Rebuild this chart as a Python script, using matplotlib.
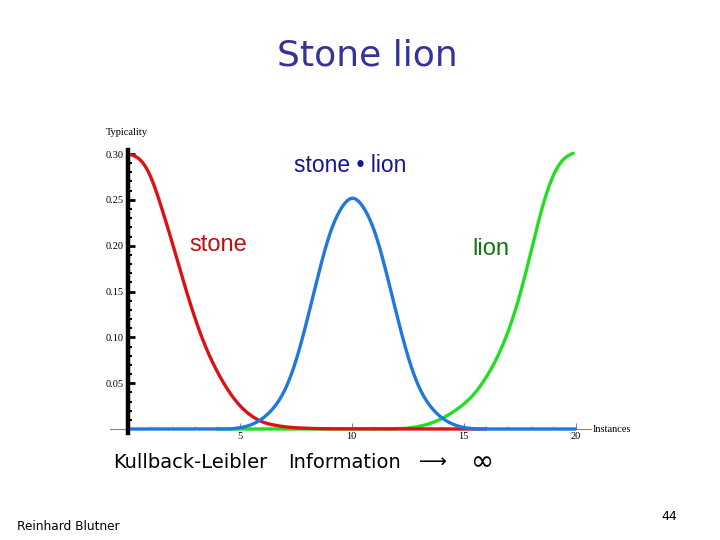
import matplotlib
matplotlib.use("Agg")
import matplotlib.pyplot as plt
from matplotlib.ticker import MultipleLocator
import numpy as np

# ---- data ----
# "stone" typicality curve (red)
stone_x = [0.0, 0.5, 1.0, 1.5, 2.0, 2.5, 3.0, 3.5, 4.0, 4.5, 5.0, 5.5, 6.0, 6.5, 7.0, 8.0, 9.0, 16.0]
stone_y = [0.300, 0.295, 0.277, 0.243, 0.203, 0.161, 0.122, 0.089, 0.063, 0.042, 0.026, 0.015, 0.008, 0.0045, 0.0025, 0.0008, 0.0002, 0.0]

# "stone • lion" typicality curve (blue)
stonelion_x = [0.0, 4.5, 5.05, 5.55, 6.05, 6.55, 7.05, 7.55, 8.05, 8.55, 9.05, 9.55, 10.05,
               10.55, 11.05, 11.55, 12.05, 12.55, 13.05, 13.55, 14.05, 14.55, 15.05, 15.6, 20.0]
stonelion_y = [0.0, 0.0, 0.0015, 0.005, 0.012, 0.024, 0.044, 0.077, 0.122, 0.171, 0.214, 0.241, 0.2517,
               0.241, 0.214, 0.171, 0.122, 0.077, 0.044, 0.024, 0.012, 0.005, 0.0015, 0.0, 0.0]

# "lion" typicality curve (green)
lion_x = [4.0, 11.5, 12.0, 12.5, 13.0, 13.5, 14.0, 14.5, 15.0, 15.5, 16.0, 16.5, 17.0, 17.5, 18.0, 18.5, 19.0, 19.5, 19.9]
lion_y = [0.0, 0.0, 0.0003, 0.001, 0.0028, 0.006, 0.011, 0.018, 0.027, 0.039, 0.056, 0.078, 0.107, 0.145, 0.192, 0.240, 0.276, 0.295, 0.3008]

y_ticks = [0.05, 0.10, 0.15, 0.20, 0.25, 0.30]
y_labels = ["0.05", "0.10", "0.15", "0.20", "0.25", "0.30"]
x_ticks = [5, 10, 15, 20]
x_labels = ["5", "10", "15", "20"]


def natural_spline(xs, ys, n=300):
    xs = np.asarray(xs, float)
    ys = np.asarray(ys, float)
    k = len(xs)
    h = np.diff(xs)
    A = np.zeros((k, k))
    b = np.zeros(k)
    A[0, 0] = 1
    A[-1, -1] = 1
    for i in range(1, k - 1):
        A[i, i - 1] = h[i - 1]
        A[i, i] = 2 * (h[i - 1] + h[i])
        A[i, i + 1] = h[i]
        b[i] = 6 * ((ys[i + 1] - ys[i]) / h[i] - (ys[i] - ys[i - 1]) / h[i - 1])
    M = np.linalg.solve(A, b)
    xx = np.linspace(xs[0], xs[-1], n)
    idx = np.clip(np.searchsorted(xs, xx) - 1, 0, k - 2)
    x0, x1 = xs[idx], xs[idx + 1]
    hh = x1 - x0
    yy = (M[idx] * (x1 - xx) ** 3 / (6 * hh) + M[idx + 1] * (xx - x0) ** 3 / (6 * hh)
          + (ys[idx] / hh - M[idx] * hh / 6) * (x1 - xx)
          + (ys[idx + 1] / hh - M[idx + 1] * hh / 6) * (xx - x0))
    return xx, np.clip(yy, 0, None)


def curve(xs, ys, flat_left=0, flat_right=0):
    # spline through the read points, straight flat ends where the curve lies on the axis
    xs = list(xs)
    ys = list(ys)
    core_x = xs[flat_left:len(xs) - flat_right]
    core_y = ys[flat_left:len(ys) - flat_right]
    cx, cy = natural_spline(core_x, core_y)
    px = list(xs[:flat_left]) + list(cx) + list(xs[len(xs) - flat_right:])
    py = list(ys[:flat_left]) + list(cy) + list(ys[len(ys) - flat_right:])
    return px, py


fig = plt.figure(figsize=(7.2, 5.4), dpi=100)
fig.patch.set_facecolor("white")

ax = fig.add_axes([127.5 / 720, (540 - 429) / 540, 448 / 720, 275 / 540])
ax.set_xlim(0, 20)
ax.set_ylim(0, 0.30)

lw = 2.4
gx, gy = curve(lion_x, lion_y, flat_left=1)
ax.plot(gx, gy, color="#22dd22", lw=lw, clip_on=False, zorder=3, solid_capstyle="round")
rx, ry = curve(stone_x, stone_y, flat_right=1)
ax.plot(rx, ry, color="#dd1111", lw=lw, clip_on=False, zorder=4, solid_capstyle="round")
bx, by = curve(stonelion_x, stonelion_y, flat_left=1, flat_right=1)
ax.plot(bx, by, color="#1f78dd", lw=lw, clip_on=False, zorder=5, solid_capstyle="round")

for s in ["top", "right"]:
    ax.spines[s].set_visible(False)
ax.spines["left"].set_linewidth(3.2)
ax.spines["left"].set_color("black")
ax.spines["left"].set_bounds(-0.004, 0.304)
ax.spines["left"].set_zorder(6)
ax.spines["bottom"].set_linewidth(0.8)
ax.spines["bottom"].set_color("#888888")
ax.spines["bottom"].set_bounds(-0.8, 20.7)

ax.set_yticks(y_ticks)
ax.set_yticklabels(y_labels)
ax.set_xticks(x_ticks)
ax.set_xticklabels(x_labels)
ax.yaxis.set_minor_locator(MultipleLocator(0.01))
ax.xaxis.set_minor_locator(MultipleLocator(1))
ax.tick_params(axis="y", which="major", direction="in", length=5, width=2, color="black",
               labelsize=7.5, pad=3)
ax.tick_params(axis="y", which="minor", direction="in", length=3, width=1.5, color="black")
ax.tick_params(axis="x", which="major", direction="in", length=4, width=0.8, color="#888888",
               labelsize=7.5, pad=2)
ax.tick_params(axis="x", which="minor", direction="in", length=2.5, width=0.6, color="#888888")
for lab in ax.get_xticklabels() + ax.get_yticklabels():
    lab.set_fontfamily("Liberation Serif")

fig.text(127 / 720, 1 - 133 / 540, "Typicality", ha="center", va="center",
         fontsize=7.5, family="Liberation Serif")
fig.text(593 / 720, 1 - 429 / 540, "Instances", ha="left", va="center",
         fontsize=7.5, family="Liberation Serif")

# slide texts
fig.text(367 / 720, 1 - 55 / 540, "Stone lion", ha="center", va="center",
         fontsize=26, color="#333399", family="DejaVu Sans")
fig.text(350 / 720, 1 - 165 / 540, "stone \u2022 lion", ha="center", va="center",
         fontsize=16.5, color="#141496", family="Liberation Sans")
fig.text(218 / 720, 1 - 245 / 540, "stone", ha="center", va="center",
         fontsize=17, color="#bb1111", family="Liberation Sans")
fig.text(491 / 720, 1 - 249 / 540, "lion", ha="center", va="center",
         fontsize=17, color="#117711", family="Liberation Sans")

kl_y = 1 - 462 / 540
fig.text(113 / 720, kl_y, "Kullback-Leibler", ha="left", va="center",
         fontsize=14, color="black", family="DejaVu Sans")
fig.text(288 / 720, kl_y, "Information", ha="left", va="center",
         fontsize=14, color="black", family="DejaVu Sans")
fig.text(419 / 720, kl_y, "\u27f6", ha="left", va="center",
         fontsize=14, color="black", family="DejaVu Sans")
fig.text(471 / 720, kl_y, "\u221e", ha="left", va="center",
         fontsize=20, color="black", family="DejaVu Sans")

fig.text(17 / 720, 1 - 526 / 540, "Reinhard Blutner", ha="left", va="center",
         fontsize=8.7, color="black", family="DejaVu Sans")
fig.text(669 / 720, 1 - 516 / 540, "44", ha="center", va="center",
         fontsize=9, color="black", family="DejaVu Sans")

fig.savefig("out.png", dpi=100, facecolor="white")
